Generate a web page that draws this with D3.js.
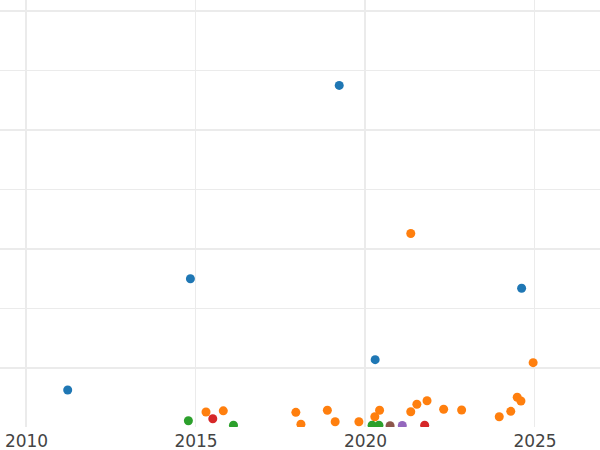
<!DOCTYPE html>
<html>
<head>
<meta charset="utf-8">
<script src="https://cdn.jsdelivr.net/npm/d3@7"></script>
<style>
  html, body { margin: 0; padding: 0; background: #fff; }
  svg { display: block; }
</style>
</head>
<body>
<svg id="chart" width="600" height="450"></svg>
<script>
// ---- data (decimal year, value) ----
const seriesNames = ["A", "B", "C", "D", "E", "F"];
const seriesColors = ["#1f77b4", "#ff7f0e", "#2ca02c", "#d62728", "#9467bd", "#8c564b"];

const blueYears  = [2011.23, 2014.85, 2019.24, 2020.30, 2024.62];
const blueValues = [6.3, 25.0, 57.5, 11.4, 23.4];

const orangeYears  = [2015.31, 2015.82, 2017.96, 2018.11, 2018.89, 2019.12, 2019.82, 2020.29, 2020.43,
                      2021.35, 2021.35, 2021.53, 2021.83, 2022.32, 2022.85, 2023.96, 2024.30, 2024.49,
                      2024.60, 2024.96];
const orangeValues = [2.6, 2.8, 2.55, 0.54, 2.9, 0.97, 0.97, 1.8, 2.9,
                      32.6, 2.64, 3.9, 4.5, 3.06, 2.94, 1.8, 2.72, 5.08,
                      4.45, 10.9];

const greenYears  = [2014.79, 2016.12, 2020.21, 2020.41];
const greenValues = [1.14, 0.37, 0.37, 0.37];

const redYears  = [2015.51, 2021.76];
const redValues = [1.48, 0.37];

const purpleYears  = [2021.10];
const purpleValues = [0.34];

const brownYears  = [2020.74];
const brownValues = [0.3];

const xTickValues = [2010, 2015, 2020, 2025];
const xTickLabels = ["2010", "2015", "2020", "2025"];
const yGridValues = [10, 20, 30, 40, 50, 60, 70];

// ---- build series ----
const allYears = [blueYears, orangeYears, greenYears, redYears, purpleYears, brownYears];
const allValues = [blueValues, orangeValues, greenValues, redValues, purpleValues, brownValues];
const series = seriesNames.map((name, i) => ({
  name, color: seriesColors[i],
  points: allYears[i].map((yr, j) => ({ x: yr, y: allValues[i][j] }))
}));

// ---- layout ----
const W = 600, H = 450;
const plotBottom = 427;
const svg = d3.select("#chart");

// x: 2010 -> 26, 2025 -> 534.5
const x = d3.scaleLinear().domain([2010, 2025]).range([26, 534.5]);
// y: 0 -> 427.5, 70 -> 11
const y = d3.scaleLinear().domain([0, 70]).range([427.5, 11]);

svg.append("defs").append("clipPath").attr("id", "plotclip")
  .append("rect").attr("x", 0).attr("y", 0).attr("width", W).attr("height", plotBottom);

const grid = svg.append("g").attr("clip-path", "url(#plotclip)");

// horizontal grid
grid.selectAll("line.hgrid").data(yGridValues).join("line")
  .attr("class", "hgrid")
  .attr("x1", 0).attr("x2", W)
  .attr("y1", d => y(d)).attr("y2", d => y(d))
  .attr("stroke", "#ebebeb")
  .attr("stroke-width", d => (d / 10) % 2 === 1 ? 2 : 1);

// vertical grid
grid.selectAll("line.vgrid").data(xTickValues).join("line")
  .attr("class", "vgrid")
  .attr("y1", 0).attr("y2", plotBottom)
  .attr("x1", d => x(d)).attr("x2", d => x(d))
  .attr("stroke", "#ebebeb")
  .attr("stroke-width", d => d % 10 === 0 ? 2 : 1);

// points
const pts = svg.append("g").attr("clip-path", "url(#plotclip)");
series.forEach(s => {
  pts.append("g").selectAll("circle").data(s.points).join("circle")
    .attr("cx", d => x(d.x))
    .attr("cy", d => y(d.y))
    .attr("r", 4.5)
    .attr("fill", s.color);
});

// x axis labels
const xAxis = d3.axisBottom(x)
  .tickValues(xTickValues)
  .tickFormat((d, i) => xTickLabels[i])
  .tickSize(0)
  .tickPadding(0);

const ax = svg.append("g").attr("transform", `translate(0, ${plotBottom})`).call(xAxis);
ax.select(".domain").remove();
ax.selectAll("text")
  .attr("dy", null)
  .attr("y", 20)
  .attr("fill", "#444")
  .style("font-family", "'DejaVu Sans', Verdana, sans-serif")
  .style("font-size", "17px");
</script>
</body>
</html>
